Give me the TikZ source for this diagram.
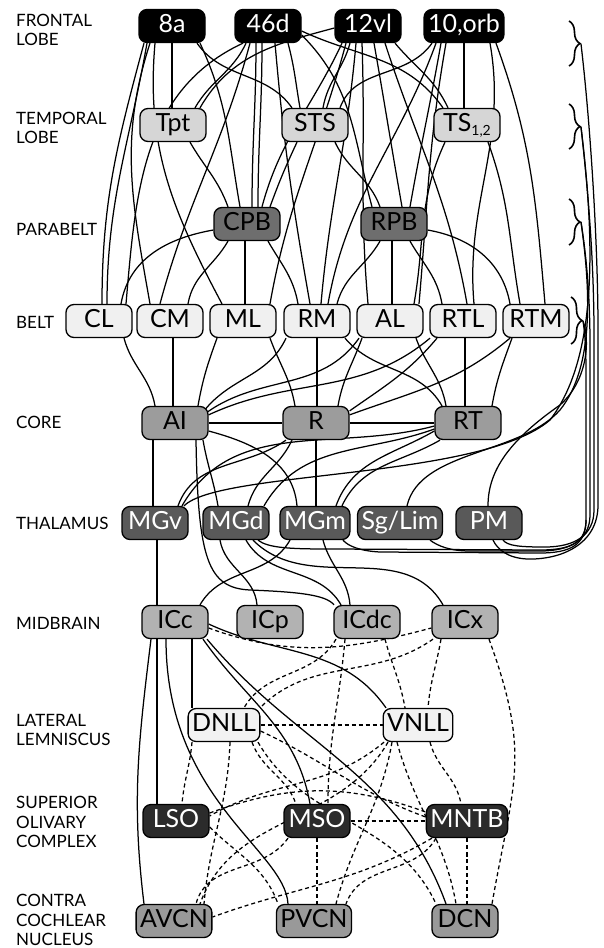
\documentclass[tikz,border=0pt]{standalone}
\usepackage{fontspec}
\setmainfont{Lato}
\usetikzlibrary{decorations.pathreplacing}
\pgfdeclarelayer{bg}
\pgfsetlayers{bg,main}
% connector from the bottom of #2 (at x=#3) to the top of #4 (at x=#5)
\newcommand\lnk[7][]{\draw[cn,#1] (#3,0 |- #2.south) to[out=#6,in=#7] (#5,0 |- #4.north);}
\definecolor{cTemp}{gray}{0.84}
\definecolor{cPara}{gray}{0.43}
\definecolor{cBelt}{gray}{0.94}
\definecolor{cCore}{gray}{0.61}
\definecolor{cThal}{gray}{0.35}
\definecolor{cMid}{gray}{0.70}
\definecolor{cLL}{gray}{0.95}
\definecolor{cSOC}{gray}{0.17}
\definecolor{cCN}{gray}{0.60}
\begin{document}
\begin{tikzpicture}[x=1pt,y=1pt,
  cn/.style={line width=1.25pt},
  dsh/.style={dash pattern=on 4pt off 3pt},
  brc/.style={decorate,decoration={brace,amplitude=11pt,aspect=0.5},line width=1.6pt},
  box/.style={draw=black,line width=1.3pt,rounded corners=8pt,minimum width=66pt,
    minimum height=33pt,inner xsep=4pt,inner ysep=0pt,text height=18pt,text depth=5pt,
    font=\fontsize{25}{25}\selectfont},
  frontal/.style={box,fill=black,text=white},
  temporal/.style={box,fill=cTemp},
  parabelt/.style={box,fill=cPara},
  belt/.style={box,fill=cBelt},
  core/.style={box,fill=cCore},
  thal/.style={box,fill=cThal,text=white},
  mid/.style={box,fill=cMid},
  lemn/.style={box,fill=cLL},
  olive/.style={box,fill=cSOC,text=white},
  cochl/.style={box,fill=cCN},
  lab/.style={anchor=west,align=left,inner sep=0pt,font=\fontsize{17}{19.5}\selectfont}]
\useasboundingbox (0,0) rectangle (603,-948);

% row labels
\node[lab] (lF) at (16,-30) {FRONTAL\\LOBE};
\node[lab] (lT) at (16,-128) {TEMPORAL\\LOBE};
\node[lab] (lP) at (16,-229) {PARABELT};
\node[lab] (lB) at (16,-322) {BELT};
\node[lab] (lC) at (16,-422) {CORE};
\node[lab] (lH) at (16,-523) {THALAMUS};
\node[lab] (lM) at (16,-623) {MIDBRAIN};
\node[lab] (lL) at (16,-730) {LATERAL\\LEMNISCUS};
\node[lab] (lS) at (16,-822) {SUPERIOR\\OLIVARY\\COMPLEX};
\node[lab] (lN) at (16,-920) {CONTRA\\COCHLEAR\\NUCLEUS};

% nodes
\node[frontal] (fA) at (172,-26) {8a};
\node[frontal] (fB) at (268,-26) {46d};
\node[frontal] (fC) at (368,-26) {12vl};
\node[frontal] (fD) at (464,-26) {10,orb};
\node[temporal] (Tpt) at (173,-125) {Tpt};
\node[temporal] (STS) at (315,-125) {STS};
\node[temporal] (TS) at (467,-125) {TS\raisebox{-4pt}{\fontsize{14}{14}\selectfont 1,2}};
\node[parabelt] (CPB) at (247,-224) {CPB};
\node[parabelt] (RPB) at (394,-224) {RPB};
\node[belt] (CL) at (99,-321) {CL};
\node[belt] (CM) at (170,-321) {CM};
\node[belt] (ML) at (243,-321) {ML};
\node[belt] (RM) at (317,-321) {RM};
\node[belt] (AL) at (390,-321) {AL};
\node[belt] (RTL) at (463,-321) {RTL};
\node[belt] (RTM) at (536,-321) {RTM};
\node[core] (AI) at (175,-423) {AI};
\node[core] (R) at (316,-423) {R};
\node[core] (RT) at (468,-423) {RT};
\node[thal] (MGv) at (155,-523) {MGv};
\node[thal] (MGd) at (236,-523) {MGd};
\node[thal] (MGm) at (315,-523) {MGm};
\node[thal] (SgLim) at (400,-523) {Sg/Lim};
\node[thal] (PM) at (489,-523) {PM};
\node[mid] (ICc) at (175,-622) {ICc};
\node[mid] (ICp) at (270,-622) {ICp};
\node[mid] (ICdc) at (367,-622) {ICdc};
\node[mid] (ICx) at (465,-622) {ICx};
\node[lemn] (DNLL) at (224,-725) {DNLL};
\node[lemn] (VNLL) at (418,-725) {VNLL};
\node[olive] (LSO) at (176,-821) {LSO};
\node[olive] (MSO) at (317,-821) {MSO};
\node[olive] (MNTB) at (467,-821) {MNTB};
\node[cochl] (AVCN) at (174,-921) {AVCN};
\node[cochl] (PVCN) at (314,-921) {PVCN};
\node[cochl] (DCN) at (465,-921) {DCN};

% braces grouping the cortical rows
\draw[brc] (569,-21) -- (569,-66);
\draw[brc] (569,-104) -- (569,-149);
\draw[brc] (569,-199) -- (569,-245);
\draw[brc] (571,-297) -- (571,-344);
\coordinate (tF) at (581,-44);
\coordinate (tT) at (581,-127);
\coordinate (tP) at (581,-222);
\coordinate (tB) at (583,-321);
\coordinate (jB) at (586,-520);

\begin{pgfonlayer}{bg}
\fill[white] (0,0) rectangle (603,-948);
% frontal lobe
\lnk{fA}{172}{Tpt}{172}{-90}{90}
\lnk{fA}{197}{STS}{292}{-55}{125}
\lnk{fA}{144}{CL}{102}{-105}{90}
\lnk{fA}{147}{CL}{107}{-100}{90}
\lnk{fA}{150}{CM}{150}{-108}{100}
\lnk{fA}{155}{ML}{222}{-95}{118}
\lnk{fA}{200}{CPB}{240}{-65}{100}
\lnk{fB}{246}{Tpt}{195}{-115}{60}
\lnk{fB}{243}{CL}{126}{-155}{85}
\lnk{fB}{250}{CM}{160}{-105}{75}
\lnk{fB}{256}{CPB}{252}{-90}{90}
\lnk{fB}{262}{CPB}{258}{-90}{90}
\lnk{fB}{275}{RM}{310}{-85}{100}
\lnk{fB}{288}{STS}{300}{-75}{100}
\draw[cn] ([yshift=-5pt]fB.east) to[out=-25,in=125] (443,0 |- TS.north);
\draw[cn] ([yshift=-9pt]fB.east) to[out=-45,in=105] (372,0 |- RPB.north);
\draw[cn] ([yshift=-2pt]fC.west) to[out=-165,in=60] (200,0 |- Tpt.north);
\lnk{fC}{342}{CPB}{262}{-115}{75}
\lnk{fC}{346}{ML}{270}{-105}{80}
\lnk{fC}{350}{STS}{323}{-105}{80}
\lnk{fC}{356}{RM}{321}{-95}{85}
\lnk{fC}{362}{AL}{368}{-88}{95}
\lnk{fC}{374}{RPB}{402}{-80}{100}
\lnk{fC}{385}{RTL}{467}{-72}{100}
\lnk{fC}{395}{TS}{448}{-50}{115}
\lnk{fD}{432}{STS}{340}{-125}{70}
\lnk{fD}{436}{RM}{328}{-110}{80}
\lnk{fD}{441}{RPB}{410}{-100}{80}
\lnk{fD}{446}{AL}{419}{-100}{85}
\lnk{fD}{464}{TS}{464}{-90}{90}
\lnk{fD}{490}{RTL}{474}{-80}{95}
\lnk{fD}{496}{RTM}{545}{-70}{95}
% temporal lobe
\lnk{Tpt}{190}{CPB}{228}{-60}{110}
\lnk{STS}{297}{CPB}{270}{-115}{70}
\lnk{STS}{335}{RPB}{380}{-65}{110}
\lnk{TS}{445}{AL}{414}{-115}{80}
\lnk{TS}{488}{RTM}{520}{-70}{100}
% parabelt to belt
\draw[cn] ([yshift=-6pt]CPB.west) to[out=190,in=80] (121,0 |- CL.north);
\lnk{CPB}{228}{CM}{188}{-120}{80}
\lnk{CPB}{245}{ML}{245}{-90}{90}
\lnk{CPB}{268}{RM}{298}{-60}{100}
\lnk{RPB}{380}{RM}{337}{-120}{75}
\lnk{RPB}{392}{AL}{392}{-90}{90}
\lnk{RPB}{410}{RTL}{442}{-60}{100}
\draw[cn] ([yshift=-6pt]RPB.east) to[out=-10,in=100] (510,0 |- RTM.north);
% belt to core
\lnk{CL}{124}{AI}{155}{-75}{100}
\lnk{CM}{173}{AI}{173}{-90}{90}
\lnk{ML}{217}{AI}{198}{-110}{80}
\lnk{ML}{270}{R}{295}{-70}{100}
\lnk{RM}{317}{R}{317}{-90}{90}
\lnk{AL}{362}{R}{338}{-110}{80}
\lnk{RM}{345}{RT}{442}{-50}{120}
\lnk{AL}{416}{RT}{446}{-70}{100}
\lnk{RTL}{465}{RT}{465}{-90}{90}
\lnk{RTM}{512}{RT}{492}{-110}{80}
\draw[cn] ([xshift=-3pt,yshift=-3pt]AI.north east) to[out=50,in=-115] (286,0 |- RM.south);
\draw[cn] ([xshift=-1pt,yshift=-6pt]AI.north east) to[out=35,in=-125] (359,0 |- AL.south);
\draw[cn] ([yshift=-9pt]AI.north east) to[out=25,in=-140] (430,0 |- RTL.south);
\draw[cn] ([yshift=-5pt]R.north east) to[out=35,in=-130] (437,0 |- RTL.south);
\draw[cn] ([yshift=-9pt]R.north east) to[out=20,in=-140] (510,0 |- RTM.south);
\draw[cn] (AI.east) -- (R.west);
\draw[cn] (R.east) -- (RT.west);
% core to thalamus
\lnk{AI}{153}{MGv}{153}{-90}{90}
\lnk{AI}{203}{MGd}{218}{-80}{100}
\draw[cn] ([yshift=-8pt]AI.east) to[out=-15,in=95] (297,0 |- MGm.north);
\draw[cn] (286,0 |- R.south) to[out=-145,in=70] (178,0 |- MGv.north);
\lnk{R}{292}{MGd}{248}{-115}{75}
\lnk{R}{316}{MGm}{316}{-90}{90}
\draw[cn] ([yshift=-3pt]RT.west) to[out=195,in=60] (182,0 |- MGv.north);
\draw[cn] ([yshift=-6pt]RT.west) to[out=200,in=60] (264,0 |- MGd.north);
\draw[cn] ([yshift=-8pt]RT.west) to[out=210,in=70] (336,0 |- MGm.north);
\draw[cn] (440,0 |- RT.south) to[out=-150,in=65] (342,0 |- MGm.north);
\draw[cn] (196,0 |- AI.south) .. controls (198,-560) and (208,-588) .. (250,-590)
  .. controls (300,-592) and (326,-595) .. (334,0 |- ICdc.north);
% cortex groups to thalamus along the right side
\draw[cn] (tF) .. controls (590,-120) and (598,-240) .. (598,-330) -- (598,-505)
  .. controls (598,-545) and (560,-560) .. (527,-559)
  .. controls (508,-558) and (498,-550) .. ([xshift=4pt]PM.south);
\draw[cn] (tT) .. controls (588,-190) and (594,-260) .. (594,-335) -- (594,-510)
  .. controls (594,-535) and (575,-547) .. (545,-547)
  .. controls (520,-547) and (508,-546) .. ([xshift=14pt]PM.south);
\draw[cn] (tP) .. controls (587,-260) and (590,-300) .. (590,-345) -- (590,-515)
  .. controls (590,-540) and (570,-551) .. (540,-551) -- (470,-551)
  .. controls (450,-551) and (438,-546) .. ([xshift=30pt]SgLim.south);
\draw[cn] (tB) .. controls (586,-340) and (586,-360) .. (586,-380) -- (jB)
  .. controls (586,-545) and (570,-553) .. (540,-553) -- (380,-552)
  .. controls (360,-551) and (348,-546) .. ([xshift=28pt]MGm.south);
\draw[cn] ([xshift=22pt]MGd.south) .. controls (268,-548) and (290,-549) .. (330,-549)
  -- (540,-550) .. controls (575,-550) and (586,-540) .. (jB);
\draw[cn] (tB) .. controls (590,-340) and (588,-380) .. (560,-405)
  .. controls (510,-440) and (488,-470) .. (488,0 |- PM.north);
\draw[cn] (tP) .. controls (592,-300) and (592,-370) .. (560,-410)
  .. controls (520,-455) and (420,-450) .. (407,0 |- SgLim.north);
\draw[cn] (tT) .. controls (596,-250) and (596,-360) .. (550,-420)
  .. controls (480,-480) and (220,-470) .. (184,0 |- MGv.north);
% thalamus to midbrain
\lnk{MGv}{157}{ICc}{157}{-90}{90}
\lnk{MGd}{220}{ICp}{257}{-80}{95}
\lnk{MGd}{246}{ICdc}{341}{-60}{120}
\lnk{MGd}{253}{ICx}{443}{-45}{120}
\lnk{MGm}{290}{ICc}{200}{-120}{60}
\lnk{MGm}{323}{ICdc}{350}{-75}{95}
% midbrain to brainstem, solid
\lnk{ICc}{151}{AVCN}{144}{-97}{97}
\lnk{ICc}{157}{LSO}{157}{-90}{90}
\draw[cn] (166,0 |- ICc.south) .. controls (166,-800) and (285,-850) .. (288,0 |- PVCN.north);
\lnk{ICc}{192}{DNLL}{192}{-90}{90}
\lnk{ICc}{203}{MSO}{310}{-55}{100}
\lnk{ICc}{207}{DCN}{446}{-50}{110}
\draw[cn] ([yshift=-2pt]ICc.east) to[out=-25,in=125] (386,0 |- VNLL.north);
% brainstem, dashed
\draw[cn,dsh] ([yshift=-6pt]ICc.east) to[out=-20,in=195] ([yshift=-6pt]ICx.west);
\lnk[dsh]{ICdc}{336}{DNLL}{244}{-120}{60}
\lnk[dsh]{ICdc}{345}{MSO}{328}{-95}{90}
\lnk[dsh]{ICdc}{385}{VNLL}{405}{-75}{100}
\lnk[dsh]{ICx}{433}{DNLL}{260}{-145}{45}
\lnk[dsh]{ICx}{441}{VNLL}{428}{-100}{85}
\draw[cn,dsh] (489,0 |- ICx.south) to[out=-70,in=80,looseness=1.2] (492,0 |- DCN.north);
\draw[cn,dsh] (DNLL.east) -- (VNLL.west);
\lnk[dsh]{DNLL}{192}{LSO}{182}{-95}{85}
\lnk[dsh]{DNLL}{230}{AVCN}{204}{-92}{85}
\lnk[dsh]{DNLL}{252}{MSO}{296}{-70}{110}
\lnk[dsh]{DNLL}{258}{DCN}{436}{-60}{115}
\draw[cn,dsh] ([yshift=-6pt]DNLL.east) to[out=-25,in=160] ([yshift=4pt]MNTB.west);
\draw[cn,dsh] (384,0 |- VNLL.south) to[out=-140,in=30] ([yshift=5pt]LSO.east);
\lnk[dsh]{VNLL}{388}{AVCN}{200}{-120}{70}
\lnk[dsh]{VNLL}{392}{PVCN}{336}{-100}{75}
\lnk[dsh]{VNLL}{397}{DCN}{456}{-75}{100}
\lnk[dsh]{VNLL}{430}{MNTB}{461}{-75}{100}
\draw[cn,dsh] ([yshift=8pt]LSO.east) to[out=20,in=160] ([yshift=9pt]MNTB.west);
\draw[cn,dsh] (MSO.east) -- (MNTB.west);
\lnk[dsh]{MSO}{317}{PVCN}{317}{-90}{90}
\lnk[dsh]{MNTB}{467}{DCN}{467}{-90}{90}
\draw[cn,dsh] (432,0 |- MNTB.south) to[out=-150,in=20] ([yshift=4pt]AVCN.east);
\lnk[dsh]{MNTB}{436}{PVCN}{346}{-120}{70}
\draw[cn,dsh] ([yshift=-6pt]LSO.east) to[out=-45,in=110] (278,0 |- PVCN.north);
\lnk[dsh]{MSO}{288}{AVCN}{196}{-125}{75}
\end{pgfonlayer}
\end{tikzpicture}
\end{document}
